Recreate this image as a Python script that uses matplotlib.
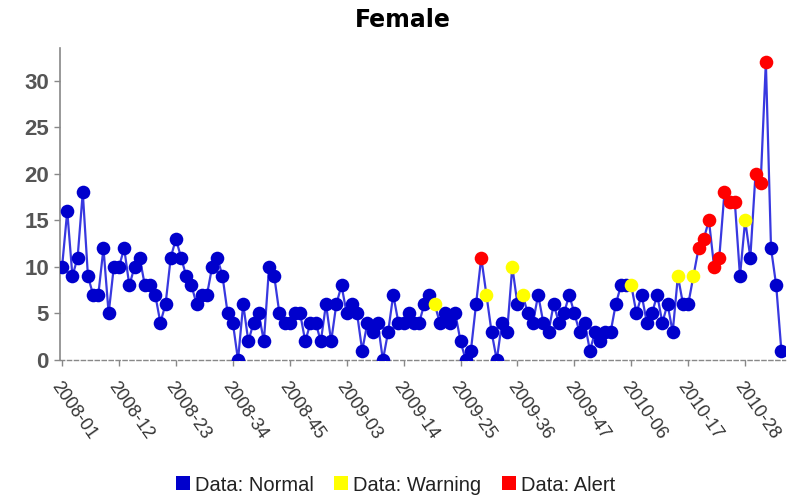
import matplotlib
matplotlib.use("Agg")
import matplotlib.pyplot as plt
from matplotlib.lines import Line2D
import numpy as np

# ---- data ----
values = [10,16,9,11,18,9,7,7,12,5,10,10,12,8,10,11,8,8,7,4,6,11,13,11,
          9,8,6,7,7,10,11,9,5,4,0,6,2,4,5,2,10,9,5,4,4,5,
          5,2,4,4,2,6,2,6,8,5,6,5,1,4,3,4,0,3,7,4,
          4,5,4,4,6,7,6,4,5,4,5,2,0,1,6,11,7,3,0,4,3,10,6,7,
          5,4,7,4,3,6,4,5,7,5,3,4,1,3,
          2,3,3,6,8,8,8,5,7,4,5,7,4,6,3,9,6,6,9,12,13,15,10,11,18,17,17,9,15,11,20,19,32,12,8,1]
warning_idx = [72, 82, 87, 89, 110, 119, 122, 132]
alert_idx = [81, 123, 124, 125, 126, 127, 128, 129, 130, 134, 135, 136]
tick_labels = ["2008-01","2008-12","2008-23","2008-34","2008-45","2009-03","2009-14",
               "2009-25","2009-36","2009-47","2010-06","2010-17","2010-28"]
tick_step = 11
legend_labels = ["Data: Normal", "Data: Warning", "Data: Alert"]

BLUE = "#0000CC"
LINE = "#3838E0"
YEL = "#FFFF00"
RED = "#FF0000"

plt.rcParams['font.family'] = ['Liberation Sans', 'DejaVu Sans']

fig = plt.figure(figsize=(7.92, 4.98), dpi=100)
ax = fig.add_axes([60/792, 1-360/498, (785-60)/792, (360-48)/498])

x = np.arange(len(values))
y = np.array(values)
status = np.zeros(len(values), dtype=int)
status[warning_idx] = 1
status[alert_idx] = 2

ax.plot(x, y, color=LINE, lw=1.6, zorder=2)
for s, c in zip([0, 1, 2], [BLUE, YEL, RED]):
    m = status == s
    ax.plot(x[m], y[m], 'o', color=c, markersize=9.8, markeredgewidth=0, zorder=3)

ax.set_xlim(-0.4, 139.7)
ax.set_ylim(0, 33.5)

ax.set_yticks(np.arange(0, 31, 5))
ax.tick_params(axis='y', colors='#888888', length=4, width=1, labelsize=16, labelcolor='#555555', pad=4)
for lab in ax.get_yticklabels():
    lab.set_fontweight('bold')

ax.set_xticks(np.arange(len(tick_labels)) * tick_step)
ax.set_xticklabels(tick_labels, rotation=-55, ha='left', va='top', rotation_mode='anchor',
                   fontsize=13, color='#333333')
ax.tick_params(axis='x', colors='#888888', length=4, width=1, labelcolor='#333333', pad=9)

for sp in ['top', 'right']:
    ax.spines[sp].set_visible(False)
ax.spines['left'].set_color('#888888')
ax.spines['left'].set_linewidth(1.2)
ax.spines['bottom'].set_color('#888888')
ax.spines['bottom'].set_linestyle((0, (3, 2)))
ax.spines['bottom'].set_linewidth(1)

fig.text(0.508, 1-20/498, "Female", ha='center', va='center', fontsize=17,
         fontweight='bold', family=['DejaVu Sans'], color='#000000')

handles = [Line2D([], [], marker='s', ls='none', color=c, markersize=10.5, markeredgewidth=0)
           for c in [BLUE, YEL, RED]]
fig.legend(handles, legend_labels, loc='center', bbox_to_anchor=(0.498, 1-485/498), ncol=3,
           frameon=False, fontsize=14.5, handletextpad=0.15, columnspacing=0.9,
           handlelength=0.9, labelcolor='#222222')

fig.savefig("out.png", dpi=100)
